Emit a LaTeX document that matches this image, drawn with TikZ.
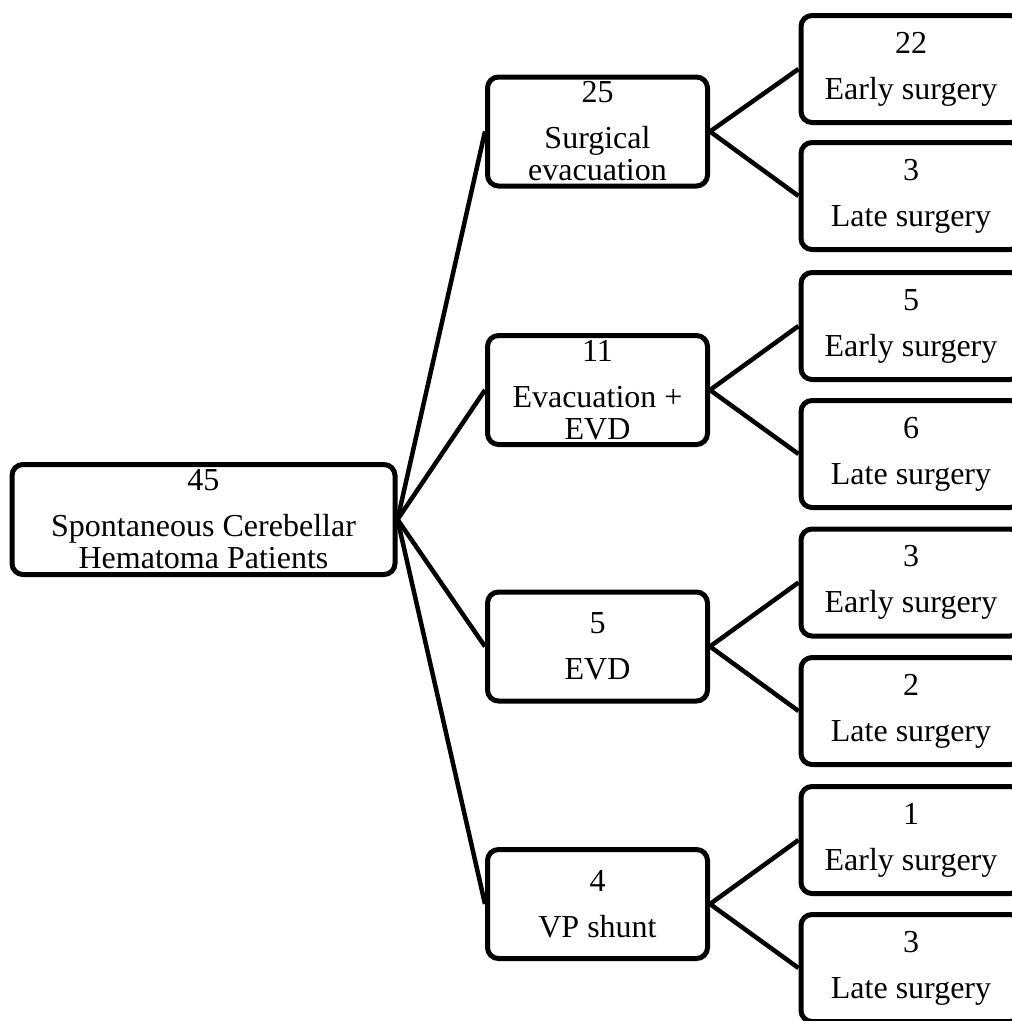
\documentclass[tikz,border=0pt]{standalone}
\usepackage{fontspec}
\setmainfont{Liberation Serif}
\begin{document}
\begin{tikzpicture}[x=1pt,y=-1pt,
  box/.style={draw=black, line width=5pt, rounded corners=11pt, align=center,
    inner sep=0pt, font=\fontsize{32}{32}\selectfont, fill=white},
  rootbox/.style={box, minimum width=383pt, minimum height=110pt},
  midbox/.style={box, minimum width=220pt, minimum height=109pt},
  leafbox/.style={box, minimum width=220pt, minimum height=107pt},
  link/.style={line width=4.5pt}]
\useasboundingbox (0,0) rectangle (1012,1021);
\clip (0,0) rectangle (1012,1021);
\fill[white] (0,0) rectangle (1012,1021);

\node[rootbox] (root) at (203.5,519.5) {45\\[14pt]Spontaneous Cerebellar\\Hematoma Patients};

\node[midbox] (m1) at (597.5,131.5) {25\\[14pt]Surgical\\evacuation};
\node[midbox] (m2) at (597.5,390) {11\\[14pt]Evacuation +\\EVD};
\node[midbox] (m3) at (597.5,646.5) {5\\[14pt]EVD};
\node[midbox] (m4) at (597.5,904) {4\\[14pt]VP shunt};

\node[leafbox] (l1) at (911,69) {22\\[14pt]Early surgery};
\node[leafbox] (l2) at (911,196) {3\\[14pt]Late surgery};
\node[leafbox] (l3) at (911,326) {5\\[14pt]Early surgery};
\node[leafbox] (l4) at (911,454) {6\\[14pt]Late surgery};
\node[leafbox] (l5) at (911,582.5) {3\\[14pt]Early surgery};
\node[leafbox] (l6) at (911,711) {2\\[14pt]Late surgery};
\node[leafbox] (l7) at (911,840) {1\\[14pt]Early surgery};
\node[leafbox] (l8) at (911,968) {3\\[14pt]Late surgery};

\foreach \m in {m1,m2,m3,m4}
  \draw[link] (root.east) -- (\m.west);
\draw[link] (m1.east) -- (l1.west);
\draw[link] (m1.east) -- (l2.west);
\draw[link] (m2.east) -- (l3.west);
\draw[link] (m2.east) -- (l4.west);
\draw[link] (m3.east) -- (l5.west);
\draw[link] (m3.east) -- (l6.west);
\draw[link] (m4.east) -- (l7.west);
\draw[link] (m4.east) -- (l8.west);
\end{tikzpicture}
\end{document}
